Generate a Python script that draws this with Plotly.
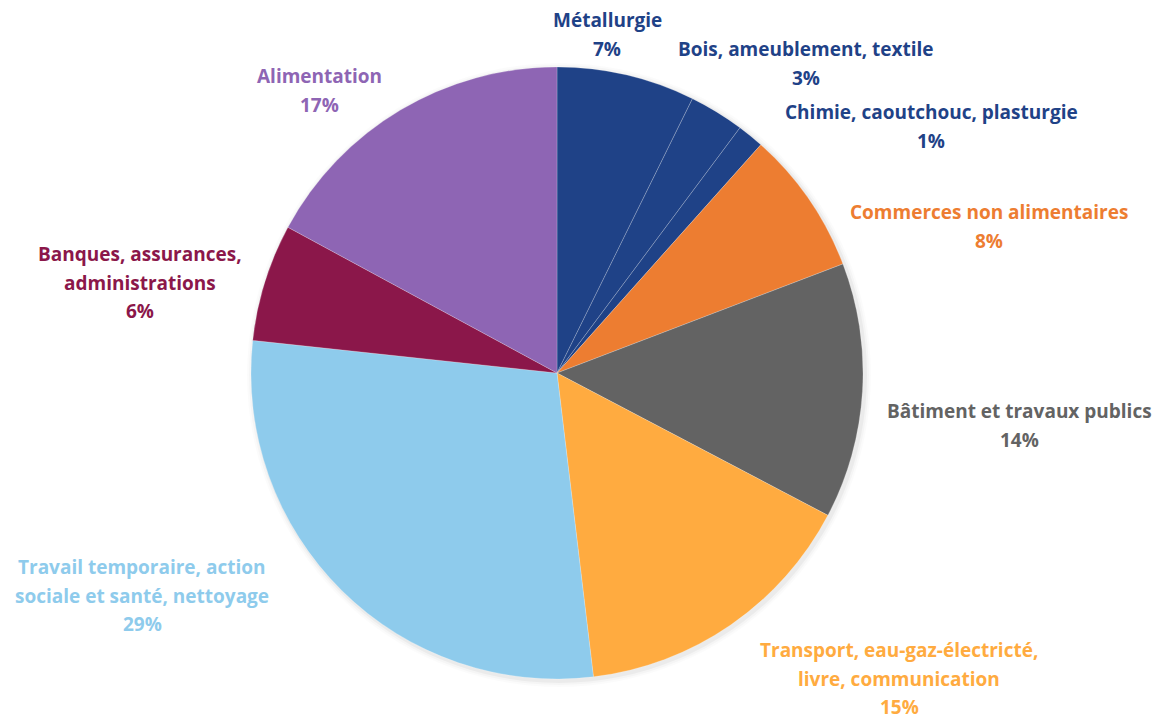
import plotly.graph_objects as go

# ---- data ----
categories = [
    "Métallurgie",
    "Bois, ameublement, textile",
    "Chimie, caoutchouc, plasturgie",
    "Commerces non alimentaires",
    "Bâtiment et travaux publics",
    "Transport, eau-gaz-électricté,<br>livre, communication",
    "Travail temporaire, action<br>sociale et santé, nettoyage",
    "Banques, assurances,<br>administrations",
    "Alimentation",
]
values = [7.3, 2.9, 1.4, 7.6, 13.5, 15.4, 28.6, 6.2, 17.1]

colors = ["#1F4287", "#1F4287", "#1F4287", "#ED7D31", "#636363",
          "#FFAB40", "#8ECBEC", "#8B174A", "#8E65B4"]

# label anchor centres (pixels in the reference, layout only)
label_pos = [(607, 20), (806, 49), (931, 112), (989, 212), (1019, 411),
             (899, 650), (142, 567), (140, 254), (319, 76)]

W, H = 1165, 720
OFF = 8  # page body margin
cx, cy, r = 557 - OFF, 373 - OFF, 306
LINE = 28.7

fig = go.Figure()
fig.add_trace(go.Pie(
    labels=[c.replace("<br>", " ") for c in categories],
    values=values,
    sort=False,
    direction="clockwise",
    rotation=0,
    textinfo="none",
    marker=dict(colors=colors, line=dict(color="rgba(255,255,255,0.35)", width=0.6)),
    domain=dict(x=[(cx - r) / W, (cx + r) / W], y=[1 - (cy + r) / H, 1 - (cy - r) / H]),
    showlegend=False,
    hoverinfo="label+percent",
))

# soft shadow
shapes = []
for k, a in [(6, 0.015), (4, 0.025), (2, 0.04)]:
    shapes.append(dict(type="circle", xref="paper", yref="paper", layer="below",
                       x0=(cx - r - k + 2) / W, x1=(cx + r + k + 2) / W,
                       y0=1 - (cy + r + k + 2) / H, y1=1 - (cy - r - k + 2) / H,
                       fillcolor=f"rgba(0,0,0,{a})", line=dict(width=0)))

total = sum(values)
annotations = []
for cat, v, col, (px, py) in zip(categories, values, colors, label_pos):
    lines = cat.split("<br>") + [f"{round(v / total * 100)}%"]
    for i, t in enumerate(lines):
        annotations.append(dict(
            text=f"<b>{t}</b>", x=(px - OFF) / W, y=1 - (py - OFF + i * LINE) / H,
            xref="paper", yref="paper", xanchor="center", yanchor="middle",
            showarrow=False, font=dict(family="Open Sans", size=19, color=col)))

fig.update_layout(
    width=W, height=H,
    margin=dict(l=0, r=0, t=0, b=0),
    paper_bgcolor="white", plot_bgcolor="white",
    shapes=shapes, annotations=annotations,
)
fig.write_html("out.html")
